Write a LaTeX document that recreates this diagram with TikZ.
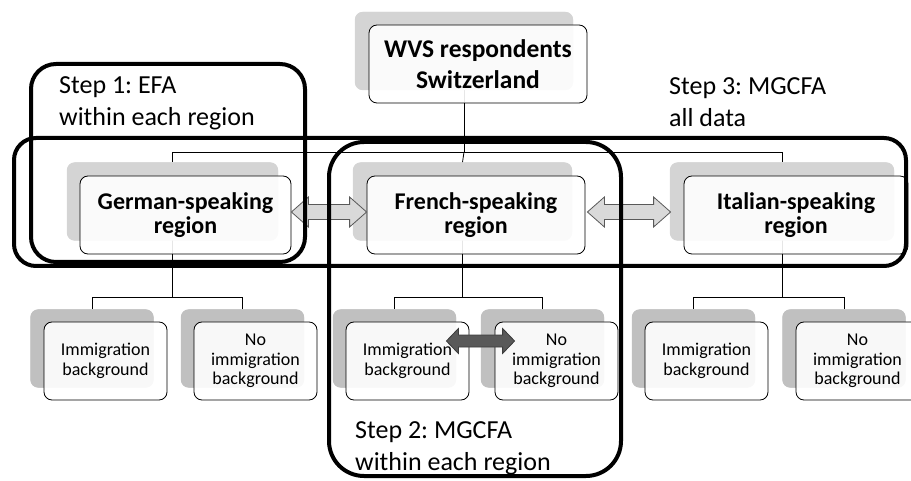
\documentclass[tikz,border=0pt]{standalone}
\usepackage{fontspec}
\setmainfont{Carlito}
\usetikzlibrary{calc}

\definecolor{shadetop}{RGB}{212,212,212}
\definecolor{shadelow}{RGB}{192,192,192}
\definecolor{arrowlight}{RGB}{217,217,217}
\definecolor{arrowdark}{RGB}{89,89,89}
\definecolor{arrowedge}{RGB}{60,60,60}

\tikzset{
  topshadow/.style={rectangle, rounded corners=8pt, fill=shadetop, inner sep=0pt,
    minimum height=78pt},
  lowshadow/.style={rectangle, rounded corners=8pt, fill=shadelow, inner sep=0pt,
    minimum width=123pt, minimum height=78pt},
  card/.style={rectangle, rounded corners=8pt, draw=black, line width=0.8pt,
    fill=white, fill opacity=0.9, text opacity=1, inner sep=0pt,
    minimum height=78pt, align=center},
  bigcard/.style={card, font=\fontsize{24}{24}\selectfont\bfseries},
  smallcard/.style={card, minimum width=123pt, font=\fontsize{18}{19.5}\selectfont},
  branch/.style={draw=black, line width=0.8pt},
  lightarrow/.style={fill=arrowlight, draw=arrowdark, line width=0.8pt},
  darkarrow/.style={fill=arrowdark, draw=arrowedge, line width=0.8pt},
  stepframe/.style={draw=black, line width=4pt, rounded corners=#1},
  % anchored at the baseline of the last line
  steplabel/.style={anchor=base west, align=left, inner sep=0pt,
    font=\fontsize{26}{32}\selectfont},
}

\begin{document}
\frenchspacing
\begin{tikzpicture}[x=1pt, y=-1pt]
\useasboundingbox (0,0) rectangle (911,481);

% levels of the tree
\coordinate (bar1) at (0,152);
\coordinate (bar2) at (0,297);

% shadow plates
\node[topshadow, minimum width=218pt] (topS) at (464,51) {};
\node[topshadow, minimum width=211pt] (gerS) at (172.5,201.5) {};
\node[topshadow, minimum width=219pt] (freS) at (462.5,201.5) {};
\node[topshadow, minimum width=224pt] (itaS) at (782,201.5) {};
\node[lowshadow] (g1S) at (92,348.5) {};
\node[lowshadow] (g2S) at (242.5,348.5) {};
\node[lowshadow] (f1S) at (394.5,348.5) {};
\node[lowshadow] (f2S) at (542.5,348.5) {};
\node[lowshadow] (i1S) at (693.5,348.5) {};
\node[lowshadow] (i2S) at (844,348.5) {};

% tree branches
\draw[branch] (topS.center) -- (topS.center |- bar1) -| (gerS.north);
\draw[branch] (topS.center |- bar1) -| (itaS.north);
\draw[branch] (topS.center |- bar1) -- (freS.north);
\draw[branch] (gerS.center) -- (gerS.center |- bar2) -| (g1S.north);
\draw[branch] (gerS.center |- bar2) -| (g2S.north);
\draw[branch] (freS.center) -- (freS.center |- bar2) -| (f1S.north);
\draw[branch] (freS.center |- bar2) -| (f2S.north);
\draw[branch] (itaS.center) -- (itaS.center |- bar2) -| (i1S.north);
\draw[branch] (itaS.center |- bar2) -| (i2S.north);

% plates again, over the branches
\foreach \s in {topS,gerS,freS,itaS}
  \fill[shadetop, rounded corners=8pt] (\s.south west) rectangle (\s.north east);
\foreach \s in {g1S,g2S,f1S,f2S,i1S,i2S}
  \fill[shadelow, rounded corners=8pt] (\s.south west) rectangle (\s.north east);

% cards
\node[bigcard, minimum width=218pt, font=\fontsize{25.5}{31}\selectfont\bfseries]
  (top) at (478,64) {WVS respondents\\Switzerland};
\node[bigcard, minimum width=211pt] (ger) at (185.5,215) {German-speaking\\region};
\node[bigcard, minimum width=218pt] (fre) at (476,215) {French-speaking\\region};
\node[bigcard, minimum width=224pt] (ita) at (796,215) {Italian-speaking\\region};

\node[smallcard] (g1) at (105.5,361) {Immigration\\background};
\node[smallcard] (g2) at (255.5,361) {No\\immigration\\background};
\node[smallcard] (f1) at (407.5,361) {Immigration\\background};
\node[smallcard] (f2) at (556.5,361) {No\\immigration\\background};
\node[smallcard] (i1) at (706.5,361) {Immigration\\background};
\node[smallcard] (i2) at (857.5,361) {No\\immigration\\background};

% comparison arrows between regions
\filldraw[lightarrow]
  let \p1=($(ger.east)+(0,-3)$), \p2=($(fre.west)+(0,-3)$) in
  (\p1) -- (\x1+17,\y1+15) -- (\x1+17,\y1+7.5) -- (\x2-17,\y1+7.5)
  -- (\x2-17,\y1+15) -- (\p2) -- (\x2-17,\y1-15) -- (\x2-17,\y1-7.5)
  -- (\x1+17,\y1-7.5) -- (\x1+17,\y1-15) -- cycle;
\filldraw[lightarrow]
  let \p1=($(fre.east)+(2,-3)$), \p2=($(ita.west)+(-13,-3)$) in
  (\p1) -- (\x1+17,\y1+15) -- (\x1+17,\y1+7.5) -- (\x2-17,\y1+7.5)
  -- (\x2-17,\y1+15) -- (\p2) -- (\x2-17,\y1-15) -- (\x2-17,\y1-7.5)
  -- (\x1+17,\y1-7.5) -- (\x1+17,\y1-15) -- cycle;

% comparison arrow between the French groups
\filldraw[darkarrow]
  let \p1=($(f1.east)+(-23,-20)$), \p2=($(f2.west)+(20,-20)$) in
  (\p1) -- (\x1+12,\y1+12.5) -- (\x1+12,\y1+6) -- (\x2-12,\y1+6)
  -- (\x2-12,\y1+12.5) -- (\p2) -- (\x2-12,\y1-12.5) -- (\x2-12,\y1-6)
  -- (\x1+12,\y1-6) -- (\x1+12,\y1-12.5) -- cycle;

% analysis steps
\draw[stepframe=25pt] (31,64) rectangle (305,262);
\draw[stepframe=22pt] (14,138) rectangle (906,266);
\draw[stepframe=35pt] (329,142) rectangle (621,476);

\node[steplabel] (s1) at (59,126) {Step 1: EFA\\within each region};
\node[steplabel] (s3) at (669,127) {Step 3: MGCFA\\all data};
\node[steplabel] (s2) at (355,470) {Step 2: MGCFA\\within each region};
\end{tikzpicture}
\end{document}
